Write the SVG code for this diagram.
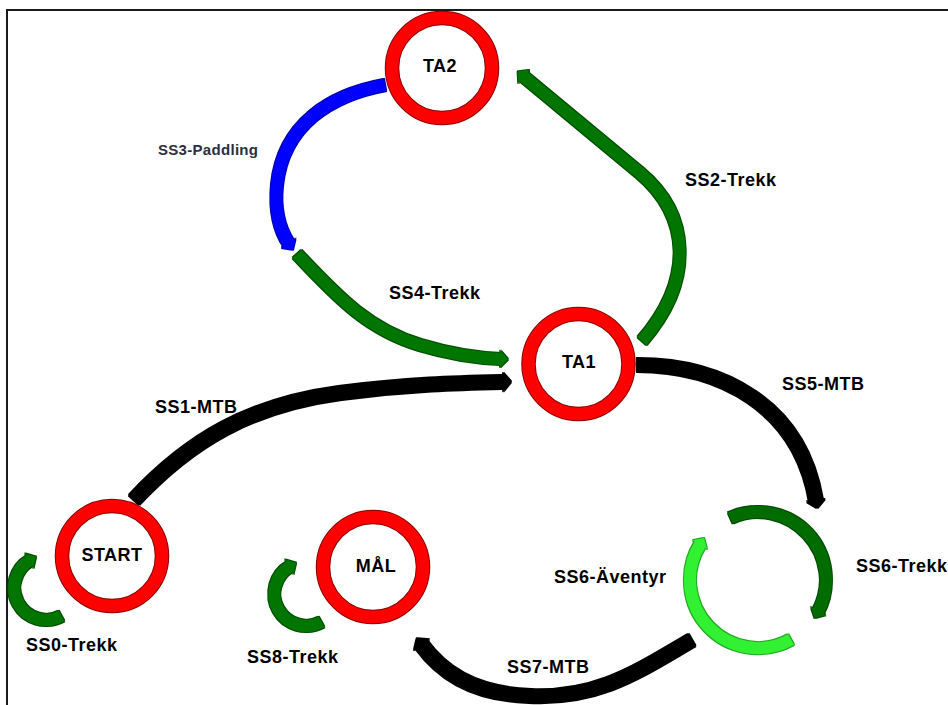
<svg xmlns="http://www.w3.org/2000/svg" width="948" height="705" viewBox="0 0 948 705">
<style>
  .ring-o { fill: #ffffff; stroke: #8c0000; stroke-width: 14.5; }
  .ring { fill: none; stroke: #ff0000; stroke-width: 12.5; }
  .nlabel { font-family: "Liberation Sans", Arial, sans-serif; font-size: 18px; font-weight: bold; fill: #000; text-anchor: middle; letter-spacing: 0.5px; }
  .elabel { font-family: "Liberation Sans", Arial, sans-serif; font-size: 18px; font-weight: bold; fill: #000; letter-spacing: 0.5px; }
  .elabel-s { font-family: "Liberation Sans", Arial, sans-serif; font-size: 15px; font-weight: bold; fill: #2e2e40; letter-spacing: 0.3px; }
  .c { fill: none; stroke-linecap: butt; stroke-linejoin: round; }
  .blk { stroke: #000000; stroke-width: 14; marker-end: url(#a-blk); }
  .grn { stroke: #007400; stroke-width: 12; marker-end: url(#a-grn); }
  .blu { stroke: #0000ff; stroke-width: 12; marker-end: url(#a-blu); }
  .lim { stroke: #33f033; stroke-width: 12; marker-end: url(#a-lim); }
  .dgr { stroke: #006c00; stroke-width: 12; marker-end: url(#a-dgr); }
</style>
<defs>
  <filter id="edge" x="-5%" y="-5%" width="110%" height="110%">
    <feMorphology in="SourceGraphic" operator="dilate" radius="1" result="d"/>
    <feColorMatrix in="d" type="matrix" values="0.45 0 0 0 0  0 0.45 0 0 0  0 0 0.45 0 0  0 0 0 1 0" result="dk"/>
    <feMerge><feMergeNode in="dk"/><feMergeNode in="SourceGraphic"/></feMerge>
  </filter>
  <marker id="a-blk" viewBox="0 0 8 19" refX="1" refY="9.5" markerWidth="8" markerHeight="19" markerUnits="userSpaceOnUse" orient="auto"><path d="M0,0 L8,9.5 L0,19 z" fill="#000000"/></marker>
  <marker id="a-grn" viewBox="0 0 8 17" refX="1" refY="8.5" markerWidth="8" markerHeight="17" markerUnits="userSpaceOnUse" orient="auto"><path d="M0,0 L8,8.5 L0,17 z" fill="#007400"/></marker>
  <marker id="a-blu" viewBox="0 0 8 17" refX="1" refY="8.5" markerWidth="8" markerHeight="17" markerUnits="userSpaceOnUse" orient="auto"><path d="M0,0 L8,8.5 L0,17 z" fill="#0000ff"/></marker>
  <marker id="a-lim" viewBox="0 0 8 17" refX="1" refY="8.5" markerWidth="8" markerHeight="17" markerUnits="userSpaceOnUse" orient="auto"><path d="M0,0 L8,8.5 L0,17 z" fill="#33f033"/></marker>
  <marker id="a-dgr" viewBox="0 0 8 17" refX="1" refY="8.5" markerWidth="8" markerHeight="17" markerUnits="userSpaceOnUse" orient="auto"><path d="M0,0 L8,8.5 L0,17 z" fill="#006c00"/></marker>
</defs>

<rect x="0" y="0" width="948" height="705" fill="#ffffff"/>
<path d="M7,705 L7,10 L948,10" fill="none" stroke="#1a1a1a" stroke-width="2"/>

<g id="connectors" filter="url(#edge)">
  <path id="ss1" class="c blk" d="M134,500 C 190,440 250,405 340,393 C 410,384 460,383 504,382"/>
  <path id="ss2" class="c grn" d="M642,341 C 695,280 690,215 640,173 L 523,76"/>
  <path id="ss3" class="c blu" d="M385,85 C 330,95 283,125 277,185 C 274,215 281,232 289,244"/>
  <path id="ss4" class="c grn" d="M297,254 C 340,300 370,330 420,345 C 450,354 475,358 501,359"/>
  <path id="ss5" class="c blk" d="M637,365 C 720,365 800,405 816,501"/>
  <path id="ss6t" class="c dgr" d="M730.3,517.9 A68,68 0 0 1 818,611.9"/>
  <path id="ss6a" class="c lim" d="M791,639.5 A68,68 0 0 1 700.3,544"/>
  <path id="ss7" class="c blk" d="M692,640 C 640,670 600,699 530,696 C 470,694 440,670 421,644"/>
  <path id="ss0" class="c grn" d="M61.5,616 A32,32 0 0 1 30,560.3"/>
  <path id="ss8" class="c grn" d="M321.5,622 A32,32 0 0 1 290,566.3"/>
</g>

<g id="node-ta2">
  <circle class="ring-o" cx="442" cy="68" r="50"/>
  <circle class="ring" cx="442" cy="68" r="50"/>
  <text class="nlabel" x="440" y="72">TA2</text>
</g>
<g id="node-ta1">
  <circle class="ring-o" cx="578.5" cy="364" r="50"/>
  <circle class="ring" cx="578.5" cy="364" r="50"/>
  <text class="nlabel" x="579" y="368">TA1</text>
</g>
<g id="node-start">
  <circle class="ring-o" cx="112" cy="556" r="50"/>
  <circle class="ring" cx="112" cy="556" r="50"/>
  <text class="nlabel" x="112" y="561">START</text>
</g>
<g id="node-mal">
  <circle class="ring-o" cx="373" cy="567" r="50"/>
  <circle class="ring" cx="373" cy="567" r="50"/>
  <text class="nlabel" x="376" y="572">MÅL</text>
</g>

<g id="labels">
  <text class="elabel-s" x="158" y="155">SS3-Paddling</text>
  <text class="elabel" x="685" y="186">SS2-Trekk</text>
  <text class="elabel" x="389" y="299">SS4-Trekk</text>
  <text class="elabel" x="155" y="413">SS1-MTB</text>
  <text class="elabel" x="782" y="390">SS5-MTB</text>
  <text class="elabel" x="554" y="583">SS6-Äventyr</text>
  <text class="elabel" x="856" y="572">SS6-Trekk</text>
  <text class="elabel" x="26" y="651">SS0-Trekk</text>
  <text class="elabel" x="247" y="663">SS8-Trekk</text>
  <text class="elabel" x="507" y="673">SS7-MTB</text>
</g>
</svg>
